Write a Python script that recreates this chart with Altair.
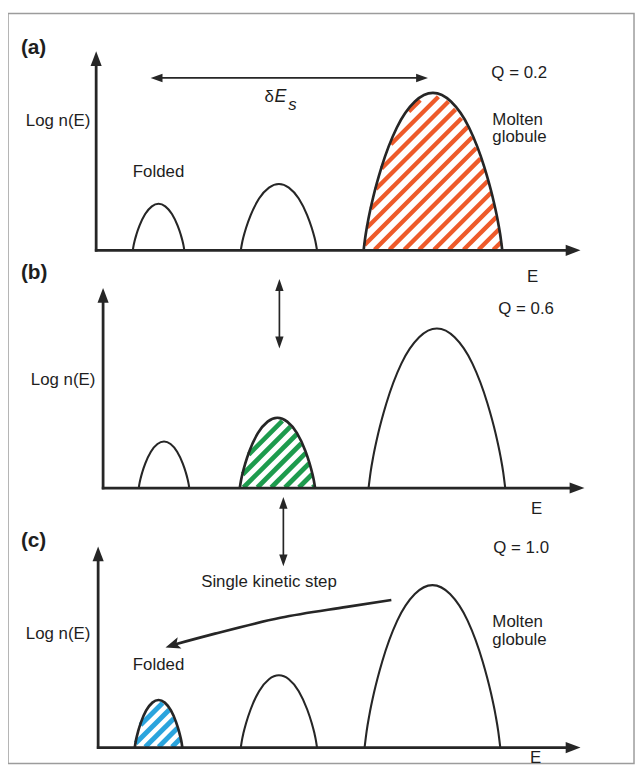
import altair as alt
import numpy as np
import pandas as pd

# ---------------- values (picture coordinates, px) -------------
FRAME_X = [8, 640]
FRAME_Y = [10, 767]

PANEL_TAGS = ["(a)", "(b)", "(c)"]
TAG_X = [21, 21, 21]
TAG_Y = [45, 272, 543]

AXIS_X = [97, 104, 99]        # E = 0 (vertical axis position)
BASE_Y = [249, 489, 751]      # log n = 0 (horizontal axis position)
AXIS_TOP = [48, 287, 548]
AXIS_END = [586, 590, 586]

YLABEL = "Log n(E)"
YLABEL_X = [26, 31, 26]
YLABEL_Y = [118, 380, 636]

Q_TEXT = ["Q = 0.2", "Q = 0.6", "Q = 1.0"]
Q_X = [496, 503, 498]
Q_Y = [70, 308, 550]

E_X = [532, 536, 535]
E_Y = [276, 510, 762]

# three energy bands per panel: left edge, right edge, peak height
HUMP_LEFT = [[134, 243, 367], [140, 242, 372], [136, 243, 368]]
HUMP_RIGHT = [[186, 320, 507], [191, 318, 510], [184, 320, 505]]
HUMP_TOP = [[202, 182, 90], [442, 418, 328], [703, 678, 587]]

# normalised band profile (position across band, relative height)
PROFILE_T = [-1, -0.97, -0.93, -0.86, -0.74, -0.52, -0.26, 0, 0.26, 0.52, 0.74, 0.86, 0.93, 0.97, 1]
PROFILE_F = [0, 0.10, 0.20, 0.34, 0.53, 0.78, 0.945, 1, 0.945, 0.78, 0.53, 0.34, 0.20, 0.10, 0]

# hatched bands: panel, band, colour, stripe spacing, stripe width
HATCH_PANEL = [0, 1, 2]
HATCH_BAND = [2, 1, 0]
HATCH_COLOR = ["#EE5A2A", "#1D9B4D", "#2AA4DD"]
HATCH_SPACING = [15, 14, 13.5]
HATCH_WIDTH = [4.4, 4.8, 5.0]

# labels
LEFT_TEXT = ["Molten", "globule", "Molten", "globule", "Folded", "Folded", "Single kinetic step", "δ"]
LEFT_X = [497, 497, 497, 497, 134, 134, 203, 267]
LEFT_Y = [117, 135, 624, 642, 170, 668, 584, 94]

ITALIC_TEXT = ["E", "s"]
ITALIC_X = [277, 291]
ITALIC_Y = [94, 102]

# straight double arrows (tip to tip)
DARROW_X1 = [152, 282, 286]
DARROW_Y1 = [75, 278, 498]
DARROW_X2 = [432, 282, 286]
DARROW_Y2 = [75, 348, 568]

# curved "single kinetic step" arrow (from tail to head)
CURVE_X = [395, 350, 283, 217, 176]
CURVE_Y = [602, 609, 620, 636, 647]
CURVE_TIP = (167, 650)

INK = "#262626"
TXT = "#1e1e1e"
FONT = "Liberation Sans"
FS = 17

# ---------------- build tables ----------------
W, H = 627, 760
xs = alt.Scale(domain=[8, 8 + W], range=[0, W])
ys = alt.Scale(domain=[8, 8 + H], reverse=True)


def X(f="x"):
    return alt.X(f + ":Q", scale=xs, axis=None)


def Y(f="y"):
    return alt.Y(f + ":Q", scale=ys, axis=None)


def band_outline(l, r, top, base):
    c = (l + r) / 2.0
    hw = (r - l) / 2.0
    h = base - top
    return [c + t * hw for t in PROFILE_T], [base - f * h for f in PROFILE_F]


# band outlines
rows = []
for p in range(3):
    for b in range(3):
        bx, by = band_outline(HUMP_LEFT[p][b], HUMP_RIGHT[p][b], HUMP_TOP[p][b], BASE_Y[p])
        hatched = any(HATCH_PANEL[i] == p and HATCH_BAND[i] == b for i in range(3))
        for i, (a, v) in enumerate(zip(bx, by)):
            rows.append(dict(id=f"{p}-{b}", x=a, y=v, o=i, sw=2.7 if hatched else 2.1))
bands = pd.DataFrame(rows)

# hatching stripes: '/' lines clipped to the band
srows = []
for i in range(3):
    p, b = HATCH_PANEL[i], HATCH_BAND[i]
    l, r, top, base = HUMP_LEFT[p][b], HUMP_RIGHT[p][b], HUMP_TOP[p][b], BASE_Y[p]
    bx, by = band_outline(l, r, top, base)
    sp = HATCH_SPACING[i]
    xx = np.linspace(l, r, 1200)
    ycurve = np.interp(xx, bx, by)
    c = l + top + sp * 0.3
    while c < r + base:
        yy = c - xx
        inside = (yy >= ycurve + 1.2) & (yy <= base - 0.5)
        if inside.any():
            idx = np.where(inside)[0]
            x1, x2 = xx[idx[0]], xx[idx[-1]]
            if x2 - x1 > 0.5:
                srows.append(dict(x=x1, y=c - x1, x2=x2, y2=c - x2, col=HATCH_COLOR[i], sw=HATCH_WIDTH[i]))
        c += sp
stripes = pd.DataFrame(srows)

# axis lines
arows = []
for p in range(3):
    arows.append(dict(x=AXIS_X[p], y=AXIS_TOP[p] + 8, x2=AXIS_X[p], y2=BASE_Y[p] + 1.3))
    arows.append(dict(x=AXIS_X[p] - 1.3, y=BASE_Y[p], x2=AXIS_END[p] - 8, y2=BASE_Y[p]))
axes_df = pd.DataFrame(arows)

# axis arrow heads (tip positions -> centre of head)
AX_HEAD = 15.0
hrows = []
for p in range(3):
    hrows.append(dict(x=AXIS_X[p], y=AXIS_TOP[p] + AX_HEAD / 2, ang=0))
    hrows.append(dict(x=AXIS_END[p] - AX_HEAD / 2, y=BASE_Y[p], ang=90))
axis_heads = pd.DataFrame(hrows)

# thin double arrows
TH_HEAD = 12.0
drows, dhead = [], []
for i in range(3):
    x1, y1, x2, y2 = DARROW_X1[i], DARROW_Y1[i], DARROW_X2[i], DARROW_Y2[i]
    L = np.hypot(x2 - x1, y2 - y1)
    ux, uy = (x2 - x1) / L, (y2 - y1) / L
    drows.append(dict(x=x1 + ux * 6, y=y1 + uy * 6, x2=x2 - ux * 6, y2=y2 - uy * 6))
    ang_fwd = float(np.degrees(np.arctan2(ux, -uy))) % 360
    ang_back = (ang_fwd + 180) % 360
    dhead.append(dict(x=x2 - ux * TH_HEAD / 2, y=y2 - uy * TH_HEAD / 2, ang=ang_fwd))
    dhead.append(dict(x=x1 + ux * TH_HEAD / 2, y=y1 + uy * TH_HEAD / 2, ang=ang_back))
darrows = pd.DataFrame(drows)
dheads = pd.DataFrame(dhead)

curve = pd.DataFrame(dict(x=CURVE_X, y=CURVE_Y, o=list(range(len(CURVE_X)))))
tx, ty = CURVE_TIP
dx, dy = tx - CURVE_X[-1], ty - CURVE_Y[-1]
dl = np.hypot(dx, dy)
ux, uy = dx / dl, dy / dl
CH = 15.0
curve_head = pd.DataFrame([dict(x=tx - ux * CH / 2, y=ty - uy * CH / 2,
                                ang=float(np.degrees(np.arctan2(ux, -uy))) % 360)])

frame = pd.DataFrame([dict(x=FRAME_X[0], x2=FRAME_X[1], y=FRAME_Y[0], y2=FRAME_Y[1])])

tags = pd.DataFrame(dict(t=PANEL_TAGS, x=TAG_X, y=TAG_Y))
left_labels = pd.DataFrame(dict(
    t=[YLABEL] * 3 + Q_TEXT + ["E"] * 3 + LEFT_TEXT,
    x=YLABEL_X + Q_X + E_X + LEFT_X,
    y=YLABEL_Y + Q_Y + E_Y + LEFT_Y,
))
italic = pd.DataFrame(dict(t=ITALIC_TEXT, x=ITALIC_X, y=ITALIC_Y, s=[18, 17]))

# ---------------- layers ----------------
frame_l = alt.Chart(frame).mark_rect(fillOpacity=0, stroke="#9c9c9c", strokeWidth=1.5).encode(
    x=X(), x2="x2:Q", y=Y(), y2="y2:Q")

stripe_l = alt.Chart(stripes).mark_rule(strokeCap="butt").encode(
    x=X(), x2="x2:Q", y=Y(), y2="y2:Q",
    color=alt.Color("col:N", scale=None),
    strokeWidth=alt.StrokeWidth("sw:Q", scale=None))

band_l = alt.Chart(bands).mark_line(interpolate="monotone", color=INK, strokeJoin="round").encode(
    x=X(), y=Y(), detail="id:N", order="o:Q",
    strokeWidth=alt.StrokeWidth("sw:Q", scale=None))

axis_l = alt.Chart(axes_df).mark_rule(color=INK, strokeWidth=2.8).encode(
    x=X(), x2="x2:Q", y=Y(), y2="y2:Q")

axis_head_l = alt.Chart(axis_heads).mark_point(
    shape="M0,-1L0.75,1L-0.75,1Z", size=AX_HEAD ** 2, filled=True, opacity=1, color=INK
).encode(x=X(), y=Y(), angle=alt.Angle("ang:Q", scale=None))

darrow_l = alt.Chart(darrows).mark_rule(color=INK, strokeWidth=1.7).encode(
    x=X(), x2="x2:Q", y=Y(), y2="y2:Q")

dhead_l = alt.Chart(dheads).mark_point(
    shape="M0,-1L0.7,1L-0.7,1Z", size=TH_HEAD ** 2, filled=True, opacity=1, color=INK
).encode(x=X(), y=Y(), angle=alt.Angle("ang:Q", scale=None))

curve_l = alt.Chart(curve).mark_line(interpolate="monotone", color=INK, strokeWidth=2.7).encode(
    x=X(), y=Y(), order="o:Q")

curve_head_l = alt.Chart(curve_head).mark_point(
    shape="M0,-1L0.8,1L0,0.55L-0.8,1Z", size=CH ** 2, filled=True, opacity=1, color=INK
).encode(x=X(), y=Y(), angle=alt.Angle("ang:Q", scale=None))

tag_l = alt.Chart(tags).mark_text(
    align="left", baseline="middle", font=FONT, fontSize=21, fontWeight="bold", color=TXT
).encode(x=X(), y=Y(), text="t:N")

label_l = alt.Chart(left_labels).mark_text(
    align="left", baseline="middle", font=FONT, fontSize=FS, color=TXT
).encode(x=X(), y=Y(), text="t:N")

italic_l = alt.Chart(italic).mark_text(
    align="left", baseline="middle", font=FONT, fontStyle="italic", color=TXT
).encode(x=X(), y=Y(), text="t:N", size=alt.Size("s:Q", scale=None))

chart = alt.layer(
    frame_l, stripe_l, band_l, axis_l, axis_head_l, darrow_l, dhead_l,
    curve_l, curve_head_l, tag_l, label_l, italic_l
).properties(
    width=W, height=H, autosize=alt.AutoSizeParams(type="none"),
    padding={"left": 0, "top": 0, "right": 6, "bottom": 0},
    background="white",
).configure_view(stroke=None)

chart.save("out.html", embed_options={"renderer": "svg", "actions": False})
